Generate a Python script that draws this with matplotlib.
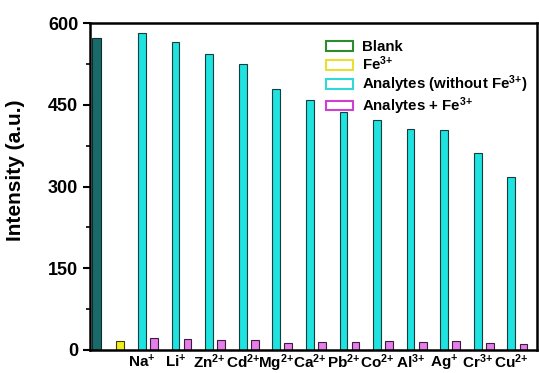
import numpy as np
import matplotlib
matplotlib.use('Agg')
import matplotlib.pyplot as plt
from matplotlib.patches import Patch

plt.rcParams['font.family'] = ['Liberation Sans', 'DejaVu Sans']
plt.rcParams['font.weight'] = 'bold'
plt.rcParams['mathtext.fontset'] = 'custom'
plt.rcParams['mathtext.rm'] = 'Liberation Sans:bold'
plt.rcParams['mathtext.bf'] = 'Liberation Sans:bold'
plt.rcParams['mathtext.default'] = 'bf'

# data
ions = ['Na$^{{+}}$', 'Li$^{{+}}$', 'Zn$^{2{+}}$', 'Cd$^{2{+}}$', 'Mg$^{2{+}}$', 'Ca$^{2{+}}$',
        'Pb$^{2{+}}$', 'Co$^{2{+}}$', 'Al$^{3{+}}$', 'Ag$^{{+}}$', 'Cr$^{3{+}}$', 'Cu$^{2{+}}$']
analytes = [582, 565, 543, 525, 479, 459, 436, 423, 406, 404, 362, 318]
analytes_fe = [22.5, 20, 17.5, 17.5, 12, 14, 14.5, 16.5, 14, 16.5, 12, 10.5]
blank = 572
fe_only = 15.5

fig = plt.figure(figsize=(5.39, 3.73), dpi=100)
ax = fig.add_axes([0.167, 0.062, 0.829, 0.876])

x = np.arange(1, len(ions) + 1)
w = 0.23
off = 0.18
ax.bar(x - off, analytes, width=w, color='#1ee3e0', edgecolor='#1c3c3c', linewidth=0.8)
ax.bar(x + off, analytes_fe, width=w, color='#e57ee8', edgecolor='#3c1c3c', linewidth=0.8)
ax.bar([-0.53], [blank], width=0.27, color='#1a6a6a', edgecolor='#0d2e2e', linewidth=0.8)
ax.bar([0.17], [fe_only], width=0.22, color='#f2ee1a', edgecolor='#3c3c10', linewidth=0.8)

ax.set_xlim(-0.726, 12.58)
ax.set_ylim(0, 600)
ax.set_yticks([0, 150, 300, 450, 600])
ax.set_yticks([75, 225, 375, 525], minor=True)
ax.set_xticks(x - off)
ax.set_xticklabels(ions, fontsize=11)
ax.tick_params(axis='x', length=0, pad=2)
ax.tick_params(axis='y', which='major', direction='out', length=5, width=1.5, labelsize=13)
ax.tick_params(axis='y', which='minor', direction='out', length=3, width=1.2)
for s in ax.spines.values():
    s.set_linewidth(1.8)
ax.set_ylabel('Intensity (a.u.)', fontsize=15, fontweight='bold')
ax.yaxis.set_label_coords(-0.146, 0.55)

handles = [Patch(facecolor='white', edgecolor='#2e8b2e', linewidth=1.5),
           Patch(facecolor='white', edgecolor='#e8e030', linewidth=1.5),
           Patch(facecolor='white', edgecolor='#30d8d8', linewidth=1.5),
           Patch(facecolor='white', edgecolor='#d040d0', linewidth=1.5)]
labels = ['Blank', 'Fe$^{3{+}}$', 'Analytes (without Fe$^{3{+}}$)', 'Analytes + Fe$^{3{+}}$']
ax.legend(handles, labels, loc='upper right', bbox_to_anchor=(1.0, 0.975), frameon=False,
          fontsize=10.8, handlelength=1.8, handleheight=0.6, labelspacing=0.02,
          handletextpad=0.6, borderaxespad=0.2)

fig.savefig('out.png', dpi=100)
